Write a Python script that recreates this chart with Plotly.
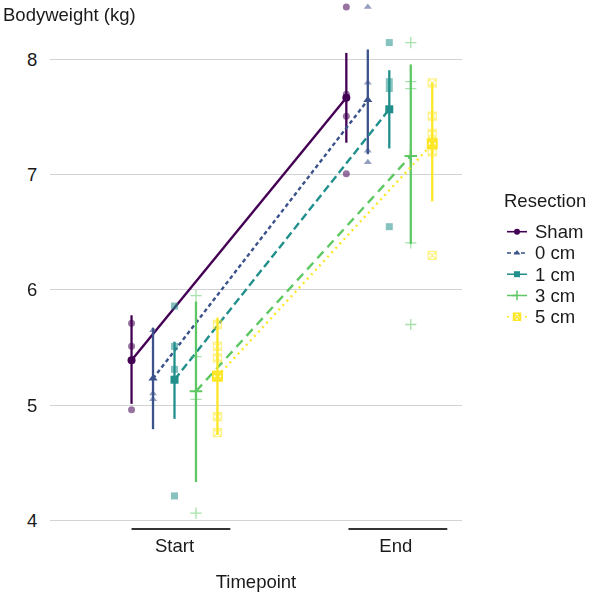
import plotly.graph_objects as go

timepoints = ["Start", "End"]
groups = ["Sham", "0 cm", "1 cm", "3 cm", "5 cm"]
colors = ["#440154", "#3B528B", "#21908C", "#5DC863", "#FDE725"]
symbols = ["circle", "triangle-up", "square", "cross-thin-open", "square-x-open"]
dashes = ["solid", "4px,3px", "8px,4px", "9px,6px", "2px,4px"]

mean_vals = {
    "Sham": [5.39, 7.67],
    "0 cm": [5.23, 7.65],
    "1 cm": [5.22, 7.57],
    "3 cm": [5.12, 7.165],
    "5 cm": [5.25, 7.27],
}
err_hi = {
    "Sham": [5.78, 8.06],
    "0 cm": [5.67, 8.09],
    "1 cm": [5.55, 7.91],
    "3 cm": [5.90, 7.96],
    "5 cm": [5.76, 7.80],
}
err_lo = {
    "Sham": [5.01, 7.28],
    "0 cm": [4.79, 7.18],
    "1 cm": [4.88, 7.23],
    "3 cm": [4.33, 6.40],
    "5 cm": [4.74, 6.77],
}
points_start = {
    "Sham": [5.71, 5.51, 4.96],
    "0 cm": [5.65, 5.10, 5.05],
    "1 cm": [5.86, 5.51, 5.31, 4.21],
    "3 cm": [5.95, 5.42, 5.05, 4.06],
    "5 cm": [5.70, 5.51, 5.41, 5.26, 4.90, 4.76],
}
points_end = {
    "Sham": [8.46, 7.70, 7.51, 7.01],
    "0 cm": [8.46, 7.80, 7.21, 7.11],
    "1 cm": [8.15, 7.81, 7.75, 6.55],
    "3 cm": [8.15, 7.81, 7.75, 6.41, 5.70],
    "5 cm": [7.80, 7.51, 7.36, 7.28, 7.20, 6.30],
}
y_ticks = [4, 5, 6, 7, 8]

dodge = 0.1
FONT = "Liberation Sans, Arial, sans-serif"
TXT = "#1a1a1a"
FS = 18.5

W, H = 590, 597
ML, MR, MT, MB = 50, 2, 0, 70
PANEL_W = 412
paper_w = W - ML - MR
main_frac = PANEL_W / paper_w

fig = go.Figure()
for i, g in enumerate(groups):
    off = (i - 2) * dodge
    xs = [0 + off, 1 + off]
    col = colors[i]
    is_open = symbols[i].endswith("open")
    px = [xs[0]] * len(points_start[g]) + [xs[1]] * len(points_end[g])
    py = points_start[g] + points_end[g]
    fig.add_trace(go.Scatter(
        x=px, y=py, mode="markers", showlegend=False, hoverinfo="skip",
        opacity=0.55, cliponaxis=False,
        marker=dict(symbol=symbols[i], size=7 if not is_open else 8, color=col,
                    line=dict(width=1.3 if is_open else 0, color=col)),
    ))
    m = mean_vals[g]
    fig.add_trace(go.Scatter(
        x=xs, y=m, mode="lines+markers", name=g, showlegend=False, cliponaxis=False,
        line=dict(color=col, width=2.4, dash=dashes[i]),
        marker=dict(symbol=symbols[i], size=8 if not is_open else 9, color=col,
                    line=dict(width=2 if is_open else 0, color=col)),
        error_y=dict(type="data", symmetric=False,
                     array=[h - v for h, v in zip(err_hi[g], m)],
                     arrayminus=[v - l for l, v in zip(err_lo[g], m)],
                     width=0, thickness=2.3, color=col),
    ))

# manual legend (keys drawn on a hidden helper axis measured in pixels)
LEG_X_LINE = (507, 527)
LEG_X_TEXT = 533
LEG_TITLE = (502, 200)
LEG_Y0, LEG_STEP = 231.7, 21.25
for i, g in enumerate(groups):
    y = LEG_Y0 + i * LEG_STEP
    col = colors[i]
    is_open = symbols[i].endswith("open")
    fig.add_trace(go.Scatter(
        x=list(LEG_X_LINE), y=[y, y], mode="lines", xaxis="x2", yaxis="y2",
        showlegend=False, hoverinfo="skip",
        line=dict(color=col, width=1.6, dash=dashes[i]),
    ))
    fig.add_trace(go.Scatter(
        x=[sum(LEG_X_LINE) / 2], y=[y], mode="markers", xaxis="x2", yaxis="y2",
        showlegend=False, hoverinfo="skip",
        marker=dict(symbol=symbols[i], size=6 if not is_open else 7, color=col,
                    line=dict(width=1.5 if is_open else 0, color=col)),
    ))
    fig.add_annotation(text=g, xref="x2", yref="y2", x=LEG_X_TEXT, y=y,
                       xanchor="left", yanchor="middle", showarrow=False,
                       font=dict(family=FONT, size=FS, color=TXT))
fig.add_annotation(text="Resection", xref="x2", yref="y2", x=LEG_TITLE[0], y=LEG_TITLE[1],
                   xanchor="left", yanchor="middle", showarrow=False,
                   font=dict(family=FONT, size=FS, color=TXT))

# bracket lines under each category
for c, (a, b) in zip([0, 1], [(-0.2, 0.26), (-0.19, 0.27)]):
    fig.add_shape(type="line", xref="x", yref="paper", x0=c + a, x1=c + b,
                  y0=-0.004, y1=-0.004, line=dict(color="#333333", width=2))

fig.add_annotation(text="Bodyweight (kg)", xref="paper", yref="paper",
                   x=(1 - ML) / paper_w, y=(H - MB - 14) / (H - MB), xanchor="left",
                   yanchor="middle", showarrow=False,
                   font=dict(family=FONT, size=FS, color=TXT))

fig.update_layout(
    width=W, height=H,
    margin=dict(l=ML, r=MR, t=MT, b=MB),
    plot_bgcolor="white", paper_bgcolor="white",
    font=dict(family=FONT, size=FS, color=TXT),
    showlegend=False,
    xaxis=dict(domain=[0, main_frac], range=[-0.5796, 1.3385], tickvals=[0, 1.03],
               ticktext=timepoints, showgrid=False, zeroline=False, showline=False,
               ticks="outside", ticklen=2, tickcolor="rgba(0,0,0,0)", automargin=False,
               title=dict(text="Timepoint", standoff=19,
                          font=dict(family=FONT, size=FS, color=TXT)),
               tickfont=dict(family=FONT, size=FS, color=TXT)),
    yaxis=dict(range=[3.94, 8.52], tickvals=y_ticks, ticktext=[str(t) for t in y_ticks],
               showgrid=True, gridcolor="#d3d3d3", gridwidth=1, zeroline=False,
               showline=False, ticks="outside", ticklen=8, tickcolor="rgba(0,0,0,0)",
               automargin=False,
               tickfont=dict(family=FONT, size=FS, color=TXT)),
    xaxis2=dict(domain=[main_frac, 1], range=[ML + PANEL_W, W - MR], visible=False,
                fixedrange=True),
    yaxis2=dict(domain=[0, 1], range=[H - MB, MT], visible=False, fixedrange=True,
                anchor="x2"),
)

fig.write_html("out.html", config={"displayModeBar": False},
               post_script="document.body.style.margin='0';")
